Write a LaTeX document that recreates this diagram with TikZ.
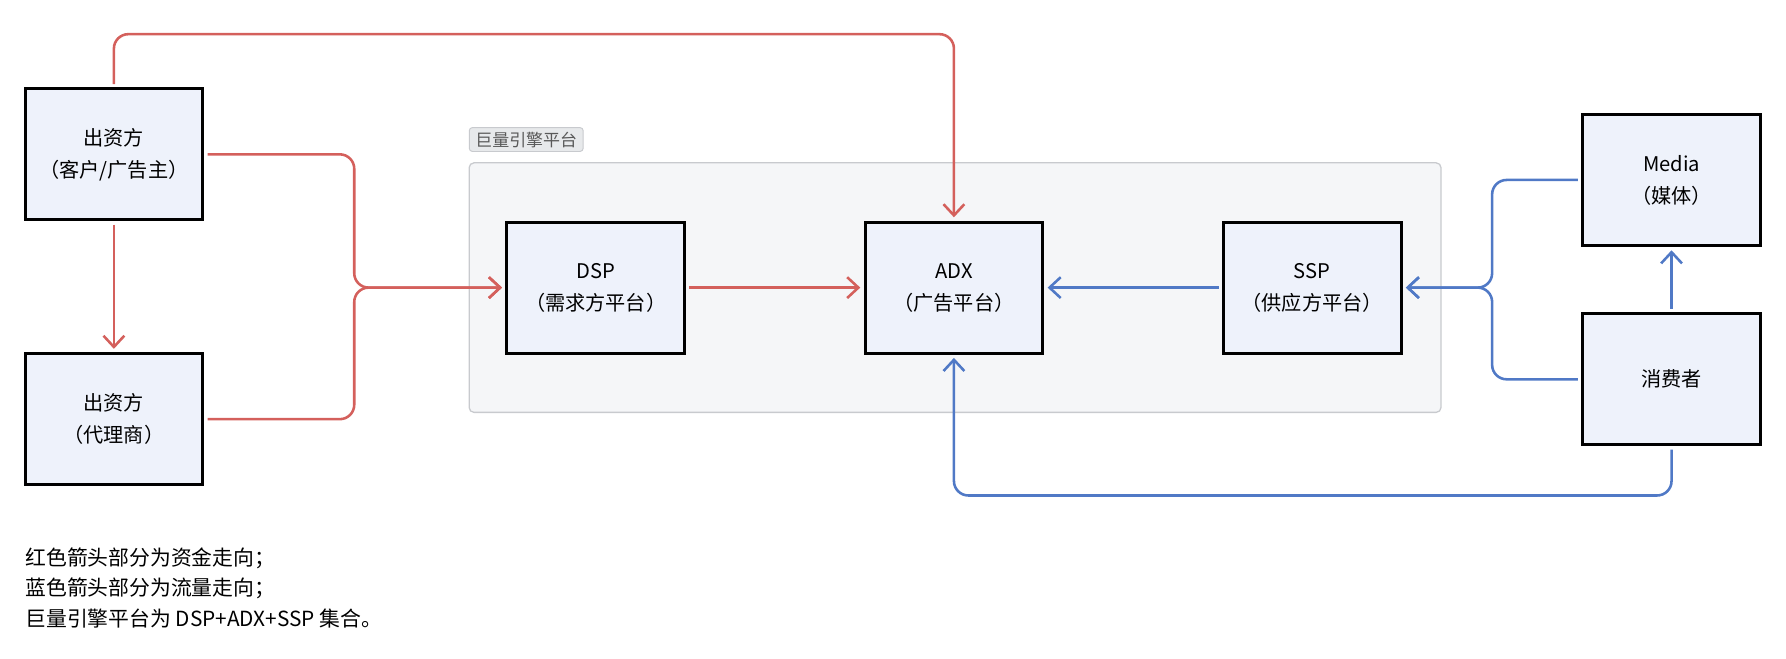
\documentclass[tikz,border=0pt]{standalone}
\usepackage{fontspec}
\setmainfont{Noto Sans CJK SC}
\usetikzlibrary{arrows.meta}
\definecolor{moneyred}{HTML}{D4605C}
\definecolor{flowblue}{HTML}{5079C6}
\definecolor{boxfill}{HTML}{EEF2FB}
\definecolor{platfill}{HTML}{F5F6F8}
\definecolor{platline}{HTML}{C8CACE}
\begin{document}
\begin{tikzpicture}[x=0.025cm, y=-0.025cm, >={Straight Barb[length=7pt,width=13pt]},
    every box/.style={draw=black, line width=1.9pt, fill=boxfill, minimum width=3.9cm,
      minimum height=2.875cm, align=center, font=\fontsize{12.6}{20}\selectfont, outer sep=3pt},
    money/.style={draw=moneyred, line width=1.6pt, rounded corners=9pt},
    traffic/.style={draw=flowblue, line width=1.6pt, rounded corners=9pt}]
\useasboundingbox (0,0) rectangle (1568,578);

% platform
\node [draw=platline, fill=platfill, rounded corners=3pt, line width=0.8pt,
  minimum width=21.325cm, minimum height=5.475cm] (platform) at (838.5,252.5) {};
\node [draw=platline, fill=platfill!70!platline, rounded corners=2pt, line width=0.6pt,
  minimum width=2.5cm, minimum height=0.525cm, inner sep=1pt, text=black!65,
  font=\fontsize{10.6}{12}\selectfont] (platform-label) at (462,122.5) {巨量引擎平台};

% boxes
\foreach \l [count=\i] in {出资方\\（客户/广告主）, 出资方\\（代理商）}
\node [every box] (payer-\i) at (100,135.5+\i*232.5-232.5) {\l};

\foreach \n/\t/\s [count=\i from 0] in {dsp/DSP/需求方平台, adx/ADX/广告平台, ssp/SSP/供应方平台}
\node [every box] (\n) at (523+\i*314.5,252.5) {\t\\（\s）};

\node [every box] (media) at (1467.5,158) {Media\\（媒体）};
\node [every box] (user) at (1467.5,333) {消费者};

% turning points
\coordinate (merge-r) at (311,252.5);
\coordinate (merge-b) at (1310,252.5);
\coordinate (top-r) at (837.5,30);
\coordinate (bottom-b) at (837.5,435);

% money
\draw [money, ->] (payer-1) -- (payer-2);
\foreach \i in {1,2}
\draw [money, ->] (payer-\i.east) -| (merge-r) -- (dsp.west);
\draw [money, ->] (payer-1.north) |- (top-r) -- (adx.north);
\draw [money, ->] (dsp) -- (adx);

% traffic
\draw [traffic, ->] (ssp) -- (adx);
\foreach \n in {media,user}
\draw [traffic, ->] (\n.west) -| (merge-b) -- (ssp.east);
\draw [traffic, ->] (user) -- (media);
\draw [traffic, ->] (user.south) |- (bottom-b) -- (adx.south);

% note
\node [anchor=north west, align=left, inner sep=0pt, font=\fontsize{13}{18.8}\selectfont]
  (note) at (22,481) {红色箭头部分为资金走向；\\蓝色箭头部分为流量走向；\\巨量引擎平台为 DSP+ADX+SSP 集合。};
\end{tikzpicture}
\end{document}
